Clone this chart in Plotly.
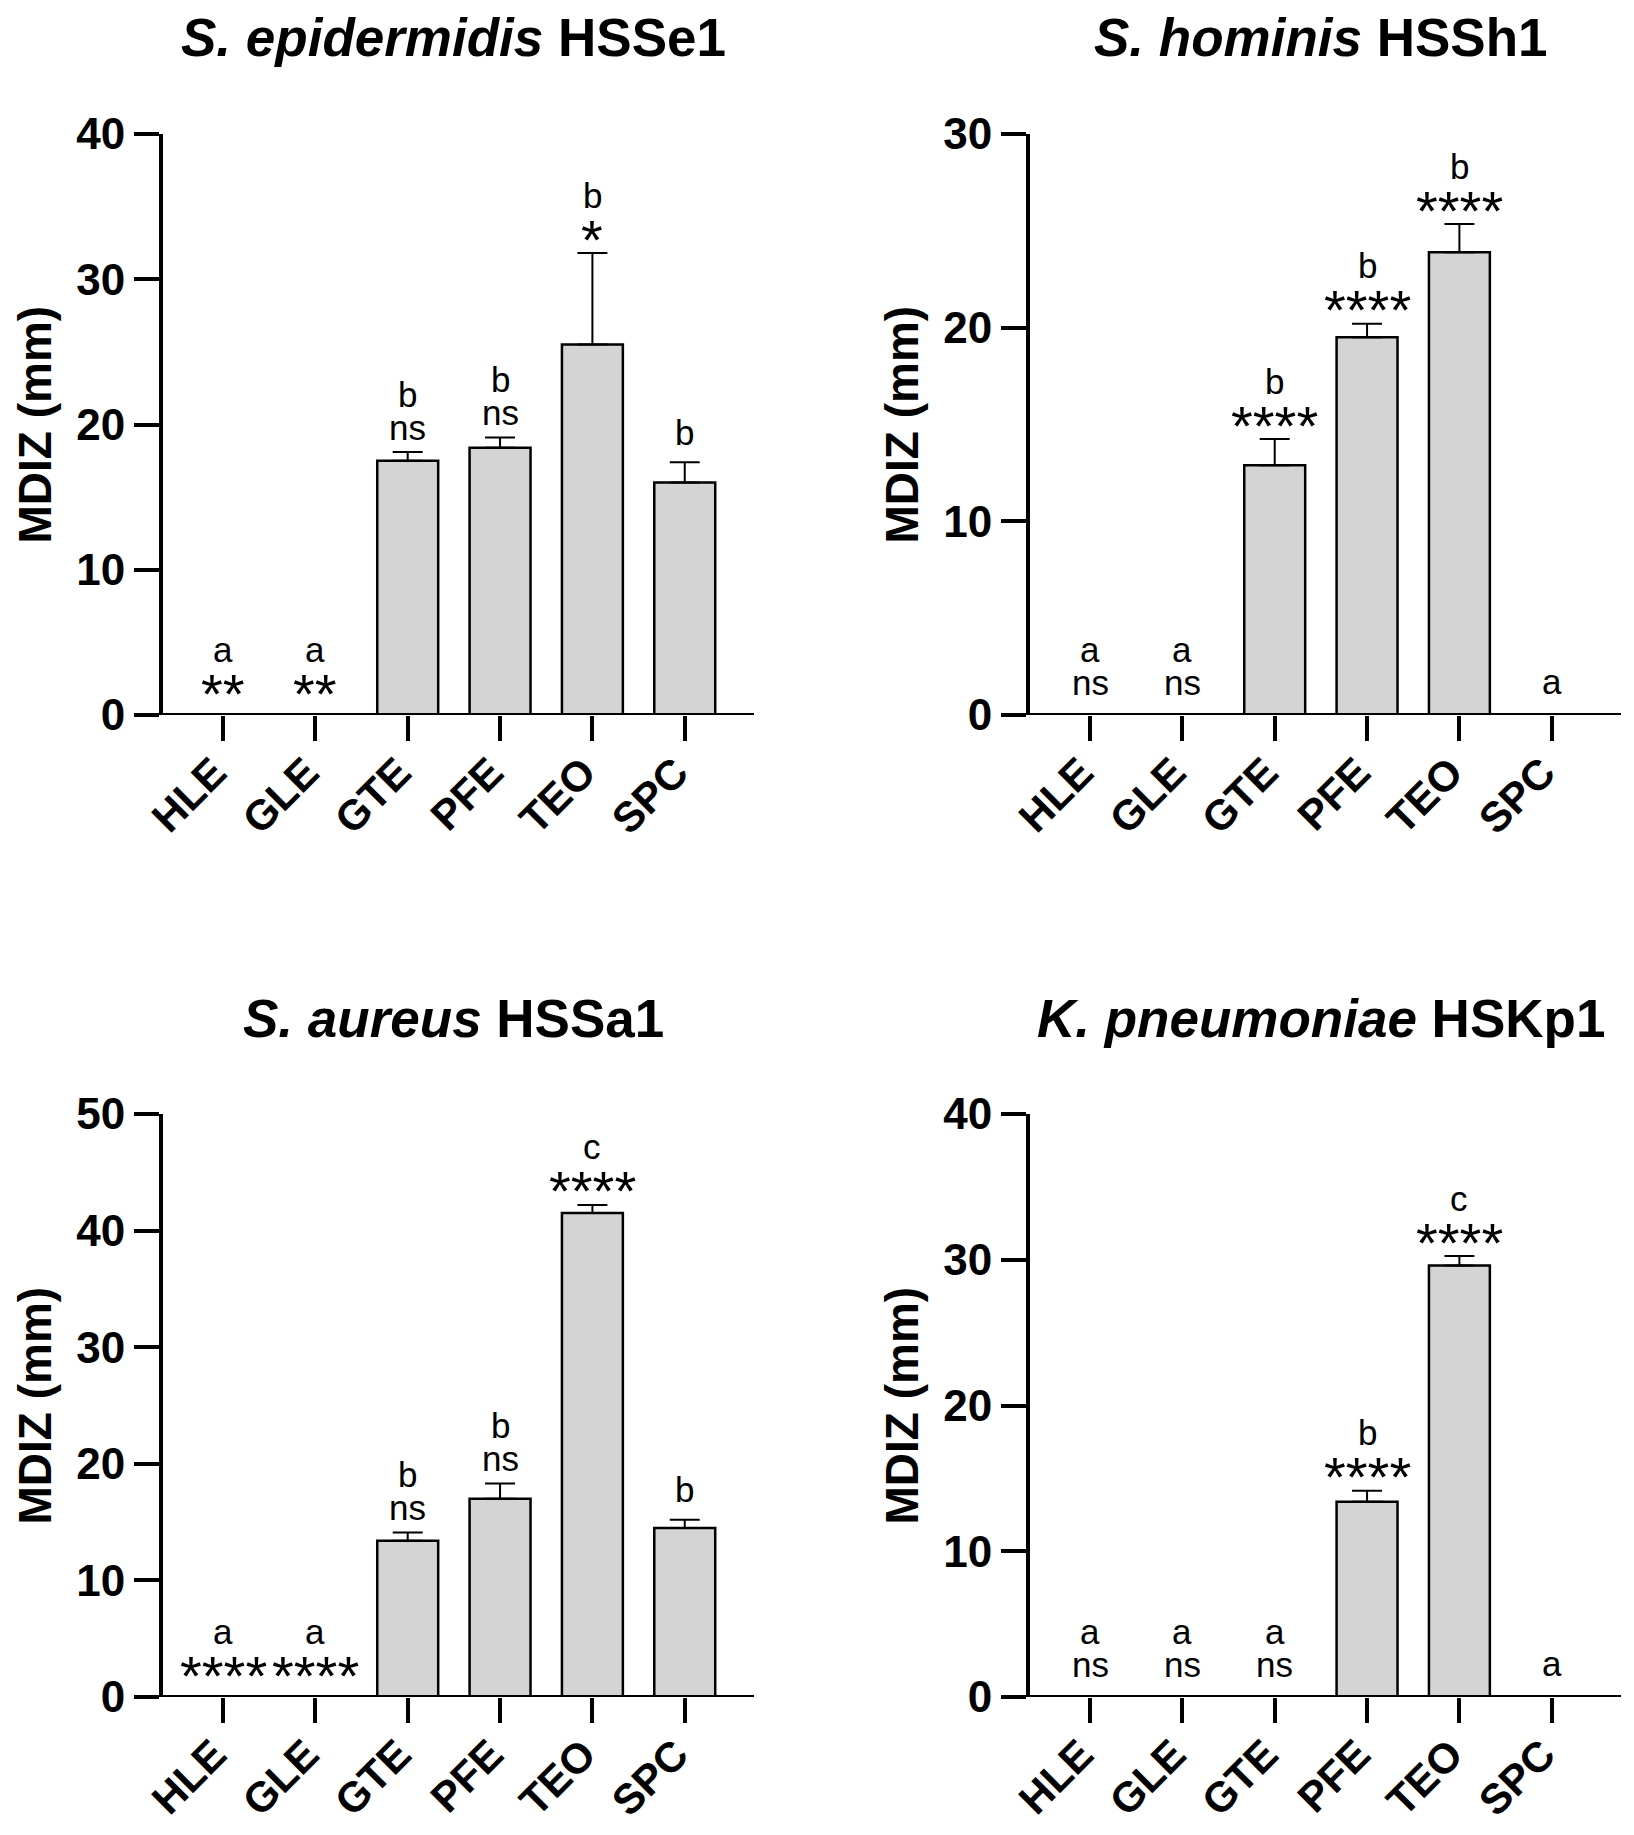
import plotly.graph_objects as go

categories = ["HLE", "GLE", "GTE", "PFE", "TEO", "SPC"]

# S. epidermidis HSSe1
epi_mean = [0, 0, 17.5, 18.4, 25.5, 16.0]
epi_err = [0, 0, 0.6, 0.7, 6.3, 1.4]
epi_letter = ["a", "a", "b", "b", "b", "b"]
epi_sig = ["**", "**", "ns", "ns", "*", ""]

# S. hominis HSSh1
hom_mean = [0, 0, 12.9, 19.5, 23.9, 0]
hom_err = [0, 0, 1.35, 0.7, 1.45, 0]
hom_letter = ["a", "a", "b", "b", "b", "a"]
hom_sig = ["ns", "ns", "****", "****", "****", ""]

# S. aureus HSSa1
aur_mean = [0, 0, 13.4, 17.0, 41.5, 14.5]
aur_err = [0, 0, 0.7, 1.3, 0.7, 0.7]
aur_letter = ["a", "a", "b", "b", "c", "b"]
aur_sig = ["****", "****", "ns", "ns", "****", ""]

# K. pneumoniae HSKp1
kpn_mean = [0, 0, 0, 13.4, 29.6, 0]
kpn_err = [0, 0, 0, 0.75, 0.65, 0]
kpn_letter = ["a", "a", "a", "b", "c", "a"]
kpn_sig = ["ns", "ns", "ns", "****", "****", ""]

species = ["S. epidermidis", "S. hominis", "S. aureus", "K. pneumoniae"]
strains = ["HSSe1", "HSSh1", "HSSa1", "HSKp1"]
y_max = [40, 30, 50, 40]
y_title = "MDIZ (mm)"

panels = [
    (epi_mean, epi_err, epi_letter, epi_sig),
    (hom_mean, hom_err, hom_letter, hom_sig),
    (aur_mean, aur_err, aur_letter, aur_sig),
    (kpn_mean, kpn_err, kpn_letter, kpn_sig),
]

W, H = 1634, 1835
FONT = "Liberation Sans, Arial, sans-serif"

# geometry (pixels)
col_axis_x = [163, 1030]           # y-axis line x
plot_w = 591
row_top_px = [134, 1114]           # y of max tick
row_zero_px = [715, 1697]          # y of value 0
x_range = [-0.65, 5.75]

fig = go.Figure()
annotations = []
shapes = []

for i, (mean, err, letters, sigs) in enumerate(panels):
    r, c = divmod(i, 2)
    ax = "" if i == 0 else str(i + 1)
    x0 = col_axis_x[c]
    xdom = [x0 / W, (x0 + plot_w) / W]
    ydom = [1 - row_zero_px[r] / H, 1 - row_top_px[r] / H]

    fig.add_trace(go.Bar(
        x=categories, y=mean, width=0.66,
        marker=dict(color="#d4d4d4", line=dict(color="black", width=2.5)),
        error_y=dict(type="data", symmetric=False, array=err,
                     arrayminus=[0] * len(err), color="black",
                     thickness=2, width=15),
        xaxis="x" + ax, yaxis="y" + ax, showlegend=False,
        hoverinfo="skip",
    ))

    fig.layout["xaxis" + ax] = dict(
        domain=xdom, anchor="y" + ax, type="category", range=x_range,
        showline=False, showgrid=False, zeroline=False, automargin=False,
        ticks="outside", ticklen=25, tickwidth=4, tickcolor="black",
        tickangle=-45, ticklabelstandoff=-10, ticklabelshift=-9,
        tickfont=dict(family=FONT, size=42, color="black", weight="bold"),
    )
    fig.layout["yaxis" + ax] = dict(
        domain=ydom, anchor="x" + ax, range=[0, y_max[i]], dtick=10, tick0=0,
        showline=True, linewidth=4, linecolor="black", automargin=False,
        showgrid=False, zeroline=False,
        ticks="outside", ticklen=25, tickwidth=4, tickcolor="black",
        ticklabelstandoff=0,
        tickfont=dict(family=FONT, size=44, color="black", weight="bold"),
    )

    # x axis line extending to the left of the y axis
    shapes.append(dict(type="line", xref="x" + ax + " domain", yref="y" + ax,
                       x0=-25 / plot_w, x1=1.0, y0=0, y1=0,
                       line=dict(color="black", width=4), layer="above"))

    # panel title
    cat_center = x0 + (0 - x_range[0] + 2.5) * plot_w / (x_range[1] - x_range[0])
    annotations.append(dict(
        xref="paper", yref="paper", x=cat_center / W,
        y=1 - (row_top_px[r] - 96) / H, xanchor="center", yanchor="middle",
        text="<i>" + species[i] + "</i> " + strains[i], showarrow=False,
        font=dict(family=FONT, size=53, color="black", weight="bold"),
    ))

    # y axis title
    annotations.append(dict(
        xref="paper", yref="paper", x=(x0 - 128) / W,
        y=(ydom[0] + ydom[1]) / 2, xanchor="center", yanchor="middle",
        textangle=-90, text=y_title, showarrow=False,
        font=dict(family=FONT, size=46, color="black", weight="bold"),
    ))

    # significance annotations
    for k, cat in enumerate(categories):
        top = mean[k] + err[k]
        is_zero = top == 0
        extra = 8 if is_zero else 0
        sig = sigs[k]
        lines = []
        if sig:
            lines.append((sig, 0))
            lines.append((letters[k], 1))
        else:
            lines.append((letters[k], 2))
        for txt, lvl in lines:
            is_star = txt.startswith("*")
            if lvl == 0:
                shift = (14 if is_star else 25) + extra
            elif lvl == 1:
                shift = 58 + extra
            else:
                shift = (26 if is_zero else 30) + extra
            annotations.append(dict(
                xref="x" + ax, yref="y" + ax, x=cat, y=top,
                xanchor="center", yanchor="middle", yshift=shift,
                text=txt, showarrow=False,
                font=dict(family=FONT, size=56 if is_star else 35,
                          color="black"),
            ))

fig.update_layout(
    width=W, height=H,
    margin=dict(l=0, r=0, t=0, b=0),
    paper_bgcolor="white", plot_bgcolor="white",
    annotations=annotations, shapes=shapes,
    showlegend=False, bargap=0.3,
)

fig.write_html("out.html",
               config={"displayModeBar": False},
               post_script="document.body.style.margin='0';")
